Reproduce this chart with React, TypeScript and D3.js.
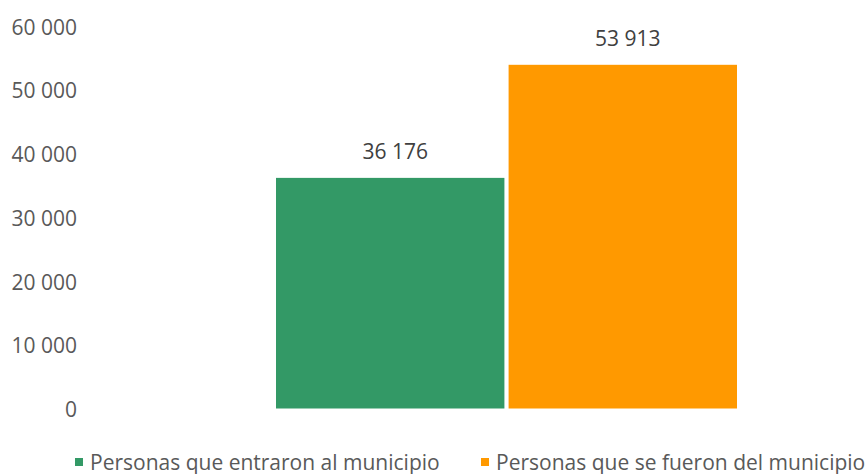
import { useEffect, useRef } from 'react';
import * as d3 from 'd3';

const series = ['Personas que entraron al municipio', 'Personas que se fueron del municipio'];
const values = [36176, 53913];
const colors = ['#339966', '#FF9900'];
const yTicks = [0, 10000, 20000, 30000, 40000, 50000, 60000];

const W = 866, H = 474;
const FONT = '"Open Sans", "Noto Sans", sans-serif';
const TEXT = '#595959';

const locale = d3.formatLocale({ decimal: ',', thousands: ' ', grouping: [3], currency: ['', ''] });
const fmt = locale.format(',');

export default function App() {
  const svgRef = useRef<SVGSVGElement>(null);

  useEffect(() => {
    if (!svgRef.current) return;
    const svg = d3.select(svgRef.current);
    svg.selectAll('*').remove();

    const y = d3.scaleLinear().domain([0, 60000]).range([408.5, 26]);
    const x = d3.scaleBand<string>().domain(series).range([276, 737]).paddingInner(0.018);

    // Y axis labels (no line, no grid)
    svg.append('g').selectAll('text').data(yTicks).enter().append('text')
      .attr('x', 77).attr('y', d => y(d) + 0.5)
      .attr('text-anchor', 'end').attr('dominant-baseline', 'central')
      .attr('font-family', FONT).attr('font-size', 21).attr('fill', TEXT)
      .text(d => fmt(d));

    // Bars
    svg.append('g').selectAll('rect').data(values).enter().append('rect')
      .attr('x', (_, i) => x(series[i])!)
      .attr('width', x.bandwidth())
      .attr('y', d => y(d))
      .attr('height', d => y(0) - y(d))
      .attr('fill', (_, i) => colors[i]);

    // Value labels
    svg.append('g').selectAll('text').data(values).enter().append('text')
      .attr('x', (_, i) => x(series[i])! + x.bandwidth() / 2 + 5)
      .attr('y', d => y(d) - 27)
      .attr('text-anchor', 'middle').attr('dominant-baseline', 'central')
      .attr('font-family', FONT).attr('font-size', 21).attr('fill', '#404040')
      .text(d => fmt(d));

    // Legend
    const legendX = [75, 481];
    const lg = svg.append('g');
    series.forEach((s, i) => {
      lg.append('rect').attr('x', legendX[i]).attr('y', 458).attr('width', 8).attr('height', 8).attr('fill', colors[i]);
      lg.append('text').attr('x', legendX[i] + 15).attr('y', 462)
        .attr('dominant-baseline', 'central')
        .attr('font-family', FONT).attr('font-size', 21).attr('fill', TEXT)
        .text(s);
    });
  }, []);

  return (
    <svg ref={svgRef} width={W} height={H} viewBox={`0 0 ${W} ${H}`}
      style={{ display: 'block', position: 'absolute', left: 0, top: 0, background: '#fff' }} />
  );
}
